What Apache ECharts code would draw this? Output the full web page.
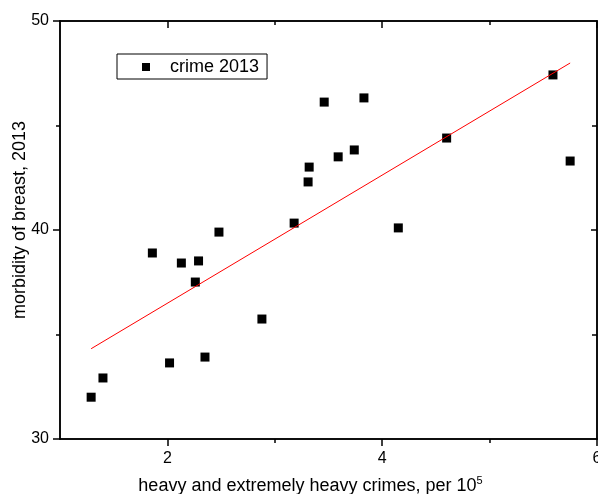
<!DOCTYPE html>
<html>
<head>
<meta charset="utf-8">
<script src="https://cdn.jsdelivr.net/npm/echarts@6/dist/echarts.min.js"></script>
<style>
  html, body { margin: 0; padding: 0; background: #fff; }
  #chart { width: 598px; height: 494px; }
</style>
</head>
<body>
<div id="chart"></div>
<script>
// values
const crimes = [1.29, 1.40, 1.86, 2.02, 2.13, 2.26, 2.29, 2.35, 2.48, 2.88, 3.18,
    3.31, 3.32, 3.46, 3.59, 3.74, 3.83, 4.15, 4.60, 5.59, 5.75];
const morbidity = [32.0, 32.92, 38.9, 33.64, 38.42, 37.51, 38.52, 33.92, 39.9, 35.74, 40.33,
    42.3, 43.01, 46.12, 43.5, 43.83, 46.32, 40.1, 44.4, 47.42, 43.3];
const fitX = [1.29, 5.75];
const fitY = [34.32, 47.99];
const xMajor = [2, 4, 6];
const xMinor = [3, 5];
const yMajor = [30, 40, 50];
const yMinor = [35, 45];

const font = "Liberation Sans";
const black = "#000";

function xAx(pos, ticks, len, inside, labels) {
    return {
        type: "value", position: pos, min: 1, max: 6, interval: 1,
        axisLine: { show: true, lineStyle: { color: black, width: 1.5 } },
        axisTick: { show: true, customValues: ticks, length: len, inside: inside, lineStyle: { color: black, width: 1.5 } },
        axisLabel: labels ? { show: true, customValues: ticks, color: black, fontSize: 16, fontFamily: font, margin: 12 } : { show: false },
        splitLine: { show: false }
    };
}
function yAx(pos, ticks, len, inside, labels) {
    return {
        type: "value", position: pos, min: 30, max: 50, interval: 5,
        axisLine: { show: true, lineStyle: { color: black, width: 1.5 } },
        axisTick: { show: true, customValues: ticks, length: len, inside: inside, lineStyle: { color: black, width: 1.5 } },
        axisLabel: labels ? { show: true, customValues: ticks, color: black, fontSize: 16, fontFamily: font, margin: 11 } : { show: false },
        splitLine: { show: false }
    };
}

const xMain = xAx("bottom", xMajor, 7, false, true);
xMain.name = "{a|heavy and extremely heavy crimes, per 10}{s|5}";
xMain.nameLocation = "middle";
xMain.nameGap = 36;
xMain.nameMoveOverlap = false;
xMain.nameTextStyle = {
    padding: [0, 36, 0, 0],
    rich: {
        a: { fontSize: 18, fontFamily: font, color: black },
        s: { fontSize: 11, fontFamily: font, color: black, padding: [0, 0, 12, 0] }
    }
};
const yMain = yAx("left", yMajor, 7, false, true);
yMain.name = "morbidity of breast, 2013";
yMain.nameLocation = "middle";
yMain.nameGap = 31;
yMain.nameMoveOverlap = false;
yMain.nameTextStyle = { fontSize: 18, fontFamily: font, color: black, padding: [0, 0, 0, 20] };

const chart = echarts.init(document.getElementById("chart"));
chart.setOption({
    animation: false,
    backgroundColor: "#fff",
    grid: { left: 60, right: 1, top: 21, bottom: 55, outerBoundsMode: "none", containLabel: false },
    legend: {
        left: 117, top: 54,
        data: [{ name: "crime 2013", icon: "rect" }],
        itemWidth: 8, itemHeight: 8,
        borderColor: black, borderWidth: 1, borderRadius: 0,
        padding: [4, 8, 3, 25],
        textStyle: { fontSize: 18, fontFamily: font, color: black, padding: [0, 0, 0, 15] }
    },
    xAxis: [
        xMain,
        xAx("bottom", xMinor, 4, false, false),
        xAx("top", xMajor, 7, true, false),
        xAx("top", xMinor, 4, true, false)
    ],
    yAxis: [
        yMain,
        yAx("left", yMinor, 4, false, false),
        yAx("right", [40], 6, true, false),
        yAx("right", yMinor, 5, true, false)
    ],
    series: [
        {
            name: "crime 2013",
            type: "scatter",
            symbol: "rect",
            symbolSize: 9,
            itemStyle: { color: black, opacity: 1 },
            data: crimes.map((c, i) => [c, morbidity[i]])
        },
        {
            name: "fit",
            type: "line",
            showSymbol: false,
            symbol: "none",
            lineStyle: { color: "#ff0000", width: 1 },
            data: fitX.map((c, i) => [c, fitY[i]])
        }
    ]
});
</script>
</body>
</html>
